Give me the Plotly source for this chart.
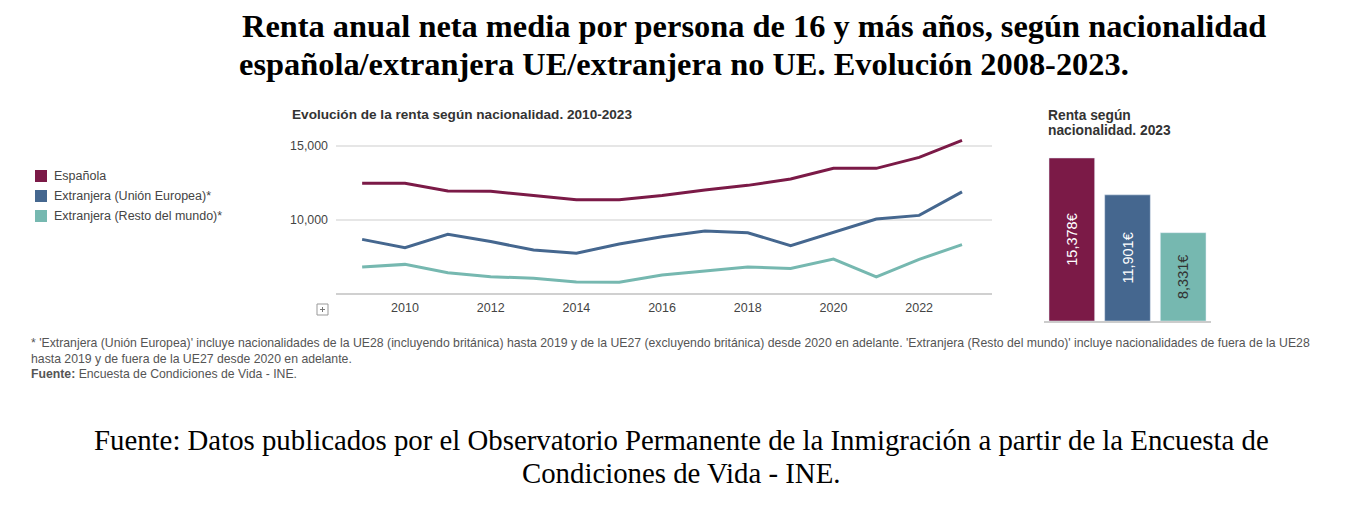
import plotly.graph_objects as go

years = list(range(2009, 2024))
espanola = [12480, 12480, 11960, 11940, 11650, 11360, 11360, 11650, 12030, 12340, 12770, 13490, 13490, 14230, 15378]
ue = [8690, 8130, 9030, 8540, 7970, 7750, 8380, 8870, 9260, 9140, 8270, 9170, 10070, 10310, 11901]
resto = [6820, 7000, 6440, 6170, 6060, 5810, 5790, 6280, 6550, 6820, 6730, 7360, 6150, 7340, 8331]

categorias = ["Española", "Extranjera (Unión Europea)*", "Extranjera (Resto del mundo)*"]
renta_2023 = [15378, 11901, 8331]
colores = ["#7b1a47", "#45678f", "#76b8b0"]

W, H = 1354, 526
OFF = 8  # margen del body de la pagina
fuente = "Liberation Sans, Arial, sans-serif"

def px(x):
    return (x - OFF) / W

def py(y):
    return 1 - (y - OFF) / H

fig = go.Figure()

for serie, nombre, color in zip([espanola, ue, resto], categorias, colores):
    fig.add_trace(go.Scatter(x=years, y=serie, name=nombre, mode="lines",
                             line=dict(color=color, width=3),
                             xaxis="x", yaxis="y", showlegend=False))

fig.add_trace(go.Bar(x=categorias, y=renta_2023, marker=dict(color=colores),
                     text=[f"{v:,}€" for v in renta_2023],
                     textposition="inside", textangle=-90, insidetextanchor="middle",
                     textfont=dict(family=fuente, size=14.5, color=["white", "white", "#333333"]),
                     xaxis="x2", yaxis="y2", showlegend=False))

fig.update_layout(
    width=W, height=H,
    margin=dict(l=0, r=0, t=0, b=0),
    paper_bgcolor="white", plot_bgcolor="white",
    bargap=0.18,
    font=dict(family=fuente, color="#444444"),
    xaxis=dict(domain=[px(336), px(992)], range=[2008.39, 2023.7],
               tickvals=list(range(2010, 2023, 2)), showgrid=False,
               showline=True, linecolor="#d0d0d0", linewidth=2,
               ticks="", ticklabelstandoff=2,
               tickfont=dict(size=12.5, color="#444444"), anchor="y"),
    yaxis=dict(domain=[py(292.5), py(131.2)], range=[5100, 16000],
               tickvals=[10000, 15000], tickformat=",", showgrid=True,
               gridcolor="#e6e6e6", gridwidth=1.5, zeroline=False,
               ticks="", ticklabelstandoff=7,
               tickfont=dict(size=12.4, color="#444444"), anchor="x"),
    xaxis2=dict(domain=[px(1044), px(1211)], showticklabels=False,
                showline=True, linecolor="#cccccc", linewidth=1.5,
                ticks="", anchor="y2"),
    yaxis2=dict(domain=[py(321), py(151.4)], range=[0, 16000],
                visible=False, anchor="x2"),
)

# leyenda
for i, (nombre, color) in enumerate(zip(categorias, colores)):
    yc = 176 + 20 * i
    fig.add_shape(type="rect", xref="paper", yref="paper",
                  x0=px(35), x1=px(47), y0=py(yc + 6), y1=py(yc - 6),
                  fillcolor=color, line=dict(width=0))
    fig.add_annotation(text=nombre, xref="paper", yref="paper",
                       x=px(52), y=py(yc), xanchor="left", yanchor="middle",
                       showarrow=False, font=dict(family=fuente, size=12.5, color="#444444"))

# icono +
fig.add_shape(type="rect", xref="paper", yref="paper",
              x0=px(317), x1=px(328), y0=py(315), y1=py(304),
              line=dict(color="#999999", width=1), fillcolor="white")
fig.add_shape(type="line", xref="paper", yref="paper",
              x0=px(320), x1=px(325), y0=py(309.5), y1=py(309.5),
              line=dict(color="#777777", width=1))
fig.add_shape(type="line", xref="paper", yref="paper",
              x0=px(322.5), x1=px(322.5), y0=py(307), y1=py(312),
              line=dict(color="#777777", width=1))

# titulos
fig.add_annotation(text="<b>Renta anual neta media por persona de 16 y más años, según nacionalidad</b>",
                   xref="paper", yref="paper", x=px(240), y=py(26), xanchor="left", yanchor="middle",
                   showarrow=False, font=dict(family="Liberation Serif", size=32.4, color="black"))
fig.add_annotation(text="<b>española/extranjera UE/extranjera no UE. Evolución 2008-2023.</b>",
                   xref="paper", yref="paper", x=px(237), y=py(64), xanchor="left", yanchor="middle",
                   showarrow=False, font=dict(family="Liberation Serif", size=32.4, color="black"))

fig.add_annotation(text="<b>Evolución de la renta según nacionalidad. 2010-2023</b>",
                   xref="paper", yref="paper", x=px(290), y=py(114), xanchor="left", yanchor="middle",
                   showarrow=False, font=dict(family=fuente, size=13.6, color="#333333"))
fig.add_annotation(text="<b>Renta según</b>", xref="paper", yref="paper", x=px(1046), y=py(116),
                   xanchor="left", yanchor="middle", showarrow=False,
                   font=dict(family=fuente, size=13.8, color="#333333"))
fig.add_annotation(text="<b>nacionalidad. 2023</b>", xref="paper", yref="paper", x=px(1046), y=py(131),
                   xanchor="left", yanchor="middle", showarrow=False,
                   font=dict(family=fuente, size=13.8, color="#333333"))

# notas
notas = [
    "* 'Extranjera (Unión Europea)' incluye nacionalidades de la UE28 (incluyendo británica) hasta 2019 y de la UE27 (excluyendo británica) desde 2020 en adelante. 'Extranjera (Resto del mundo)' incluye nacionalidades de fuera de la UE28",
    "hasta 2019 y de fuera de la UE27 desde 2020 en adelante.",
    "<b>Fuente:</b> Encuesta de Condiciones de Vida - INE.",
]
for i, nota in enumerate(notas):
    fig.add_annotation(text=nota, xref="paper", yref="paper", x=px(29), y=py(343 + 15.5 * i),
                       xanchor="left", yanchor="middle", showarrow=False,
                       font=dict(family=fuente, size=12.25, color="#555555"))

fig.add_annotation(text="Fuente: Datos publicados por el Observatorio Permanente de la Inmigración a partir de la Encuesta de",
                   xref="paper", yref="paper", x=px(681), y=py(440), xanchor="center", yanchor="middle",
                   showarrow=False, font=dict(family="Liberation Serif", size=28.8, color="black"))
fig.add_annotation(text="Condiciones de Vida - INE.",
                   xref="paper", yref="paper", x=px(681), y=py(473), xanchor="center", yanchor="middle",
                   showarrow=False, font=dict(family="Liberation Serif", size=28.8, color="black"))

fig.write_html("out.html")
